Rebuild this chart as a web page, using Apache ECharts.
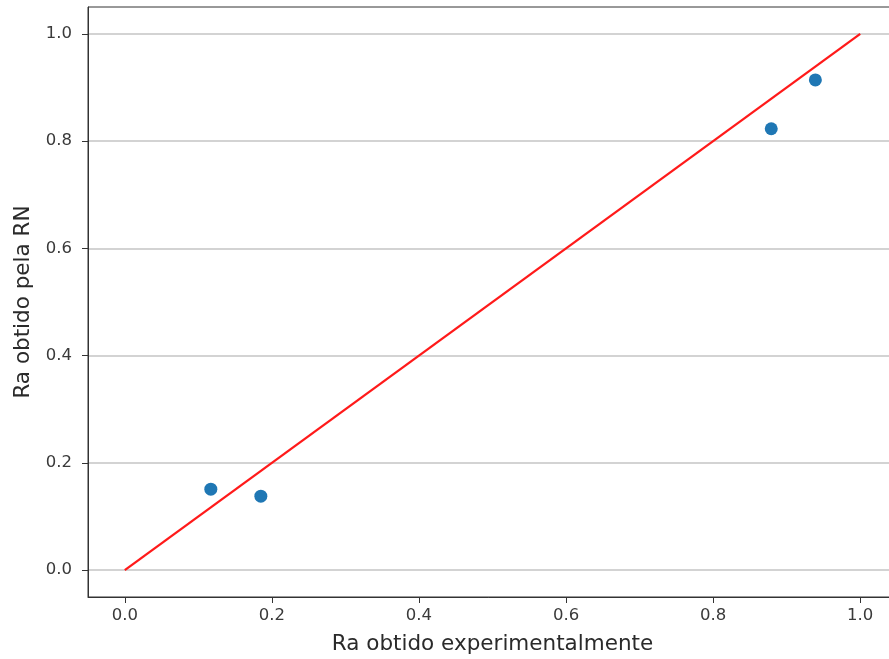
<!DOCTYPE html>
<html>
<head>
<meta charset="utf-8">
<script src="https://cdn.jsdelivr.net/npm/echarts@6/dist/echarts.min.js"></script>
<style>
html,body{margin:0;padding:0;background:#fff;}
#chart{width:889px;height:659px;}
</style>
</head>
<body>
<div id="chart"></div>
<script>
// Data
const expX = [0.117, 0.185, 0.879, 0.939];
const rnY = [0.151, 0.138, 0.823, 0.914];
const refLineX = [0, 1];
const refLineY = [0, 1];
const xTicks = [0.0, 0.2, 0.4, 0.6, 0.8, 1.0];
const yTicks = [0.0, 0.2, 0.4, 0.6, 0.8, 1.0];
const xName = 'Ra obtido experimentalmente';
const yName = 'Ra obtido pela RN';

const font = 'DejaVu Sans';
const chart = echarts.init(document.getElementById('chart'), null, {renderer: 'canvas'});
chart.setOption({
  animation: false,
  backgroundColor: '#fff',
  grid: {
    left: 88, top: 7, width: 809, height: 590,
    outerBoundsMode: 'none', containLabel: false,
    show: true, borderColor: '#333', borderWidth: 1, backgroundColor: 'transparent'
  },
  xAxis: {
    type: 'value', min: -0.05, max: 1.05,
    name: xName, nameLocation: 'middle', nameGap: 36,
    nameTextStyle: {fontFamily: font, fontSize: 21.5, color: '#2a2a2a'},
    axisLine: {show: true, onZero: false, lineStyle: {color: '#333', width: 1}},
    axisTick: {show: true, length: 6, lineStyle: {color: '#333'}, customValues: xTicks},
    axisLabel: {customValues: xTicks, fontFamily: font, fontSize: 16.5, color: '#3a3a3a', margin: 10,
      formatter: v => Number(v).toFixed(1)},
    splitLine: {show: false}
  },
  yAxis: {
    type: 'value', min: -0.05, max: 1.05,
    name: yName, nameLocation: 'middle', nameGap: 53,
    nameTextStyle: {fontFamily: font, fontSize: 21.5, color: '#2a2a2a'},
    axisLine: {show: true, onZero: false, lineStyle: {color: '#333', width: 1}},
    axisTick: {show: true, length: 6, lineStyle: {color: '#333'}, customValues: yTicks},
    axisLabel: {customValues: yTicks, fontFamily: font, fontSize: 16.5, color: '#3a3a3a', margin: 16,
      formatter: v => Number(v).toFixed(1)},
    splitLine: {show: true, lineStyle: {color: '#c4c4c4', width: 1.5}}
  },
  series: [
    {
      type: 'line',
      data: refLineX.map((x, i) => [x, refLineY[i]]),
      showSymbol: false, symbol: 'none',
      lineStyle: {color: '#ff1a1a', width: 2.3},
      z: 2
    },
    {
      type: 'scatter',
      data: expX.map((x, i) => [x, rnY[i]]),
      symbolSize: 13,
      itemStyle: {color: '#1f77b4', opacity: 1},
      z: 3
    }
  ]
});
</script>
</body>
</html>
